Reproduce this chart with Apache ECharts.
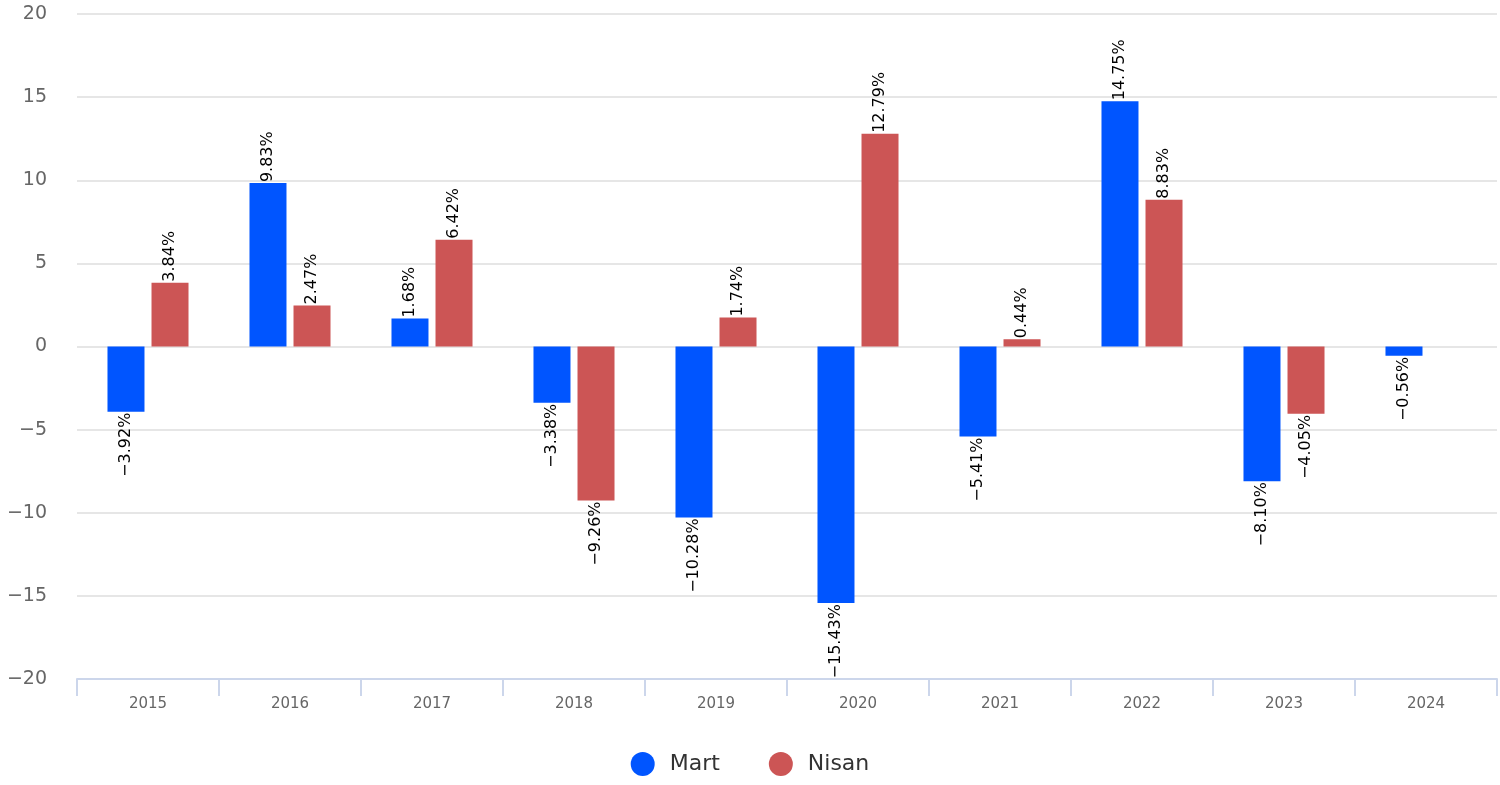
<head> </head>

<body style="margin: 0">
  <div id="main" style="width: 1500px; height: 785px"></div>
  <script src="https://cdn.jsdelivr.net/npm/echarts@6/dist/echarts.min.js"></script>
  <script>
    // yıllar
    var years = ["2015", "2016", "2017", "2018", "2019", "2020", "2021", "2022", "2023", "2024"];
    // Mart değişim (%)
    var martValues = [-3.92, 9.83, 1.68, -3.38, -10.28, -15.43, -5.41, 14.75, -8.1, -0.56];
    // Nisan değişim (%)
    var nisanValues = [3.84, 2.47, 6.42, -9.26, 1.74, 12.79, 0.44, 8.83, -4.05, null];

    var minus = function (s) {
      return String(s).replace("-", "\u2212");
    };

    var makeData = function (arr) {
      return arr.map(function (v) {
        if (v === null) return null;
        return {
          value: v,
          label: {
            position: v < 0 ? "bottom" : "top",
            align: v < 0 ? "right" : "left",
          },
        };
      });
    };

    var labelStyle = {
      show: true,
      rotate: 90,
      verticalAlign: "middle",
      distance: 1,
      color: "#000",
      fontSize: 16,
      fontFamily: "DejaVu Sans",
      formatter: function (p) {
        return minus(p.value.toFixed(2)) + "%";
      },
    };

    var myChart = echarts.init(document.getElementById("main"));
    var option = {
      animation: false,
      textStyle: { fontFamily: "DejaVu Sans" },
      grid: { left: 77, right: 3, top: 14, bottom: 106 },
      legend: {
        bottom: 4,
        left: "center",
        icon: "circle",
        itemWidth: 24,
        itemHeight: 24,
        itemGap: 49,
        textStyle: {
          fontSize: 22,
          color: "#333",
          fontFamily: "DejaVu Sans",
          padding: [0, 0, 0, 10],
        },
      },
      xAxis: {
        type: "category",
        data: years,
        axisLine: { show: true, onZero: false, lineStyle: { color: "#ccd6eb", width: 2 } },
        axisTick: { show: true, length: 17, lineStyle: { color: "#ccd6eb", width: 2 } },
        axisLabel: { color: "#666", fontSize: 15, margin: 18 },
      },
      yAxis: {
        type: "value",
        min: -20,
        max: 20,
        interval: 5,
        axisLabel: {
          color: "#666",
          fontSize: 19,
          margin: 30,
          formatter: function (v) {
            return minus(v);
          },
        },
        splitLine: { lineStyle: { color: "#e6e6e6", width: 2 } },
      },
      series: [
        {
          name: "Mart",
          type: "bar",
          data: makeData(martValues),
          barWidth: 37,
          barGap: "19%",
          itemStyle: { color: "#0055ff" },
          label: labelStyle,
        },
        {
          name: "Nisan",
          type: "bar",
          data: makeData(nisanValues),
          barWidth: 37,
          itemStyle: { color: "#cc5555" },
          label: labelStyle,
        },
      ],
    };
    myChart.setOption(option);
  </script>
</body>
